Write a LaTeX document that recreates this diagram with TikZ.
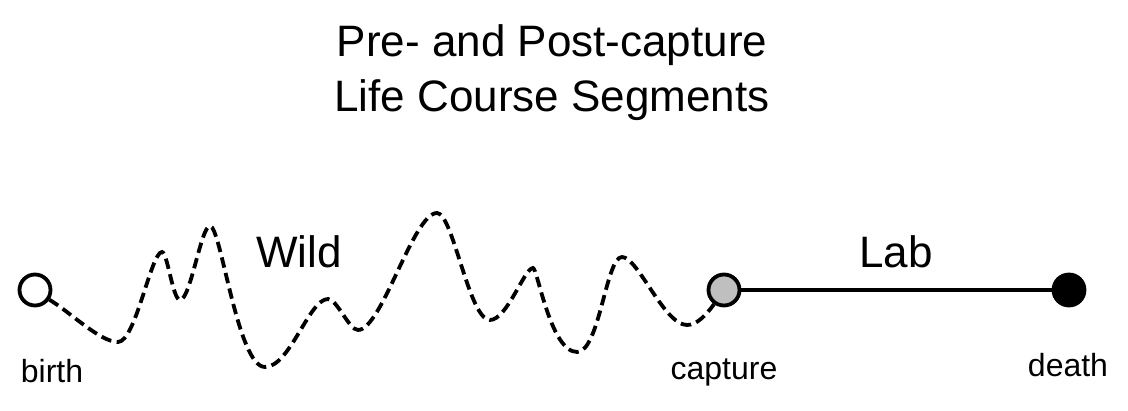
\documentclass[tikz,border=0pt]{standalone}
\usepackage{fontspec}
\setmainfont{Liberation Sans}
\begin{document}
\begin{tikzpicture}[x=1pt,y=-1pt,
  big/.style={font=\fontsize{44}{55}\selectfont, anchor=base, inner sep=0pt},
  small/.style={font=\fontsize{32}{38}\selectfont, anchor=base, inner sep=0pt},
  event/.style={circle, draw=black, line width=3.8pt, minimum size=31pt, inner sep=0pt},
  wildpath/.style={line width=3.8pt, dash pattern=on 10.5pt off 5.5pt},
  labpath/.style={line width=3.8pt}]
\useasboundingbox (0,0) rectangle (1128,411);
\node[big] (t1) at (552,57) {Pre- and Post-capture};
\node[big] (t2) at (552,112) {Life Course Segments};
\node[big] (wild) at (299,268) {Wild};
\node[big] (lab) at (896,268) {Lab};
\node[small] (lb) at (52,383) {birth};
\node[small] (lc) at (724,380) {capture};
\node[small] (ld) at (1068,377) {death};
\node[event, fill=white] (birth) at (35,290) {};
\node[event, fill=black!25] (cap) at (724,290) {};
\node[event, fill=black] (death) at (1069,290) {};
\draw[labpath] (cap) -- (death);
\draw[wildpath] (birth.-34) .. controls (70,312) and (100,342) .. (118,342)
  .. controls (135.6,342) and (151,252) .. (162,252)
  .. controls (167.4,252) and (172.8,300) .. (180,300)
  .. controls (190.5,300) and (201,226) .. (210,226)
  .. controls (221,226) and (237.5,367) .. (265,367)
  .. controls (290,367) and (309,299) .. (328,299)
  .. controls (337,299) and (349,330) .. (358,330)
  .. controls (381.7,330) and (413.3,213) .. (437,213)
  .. controls (453,213) and (469,320) .. (490,320)
  .. controls (507,320) and (524.4,268) .. (533,268)
  .. controls (537.4,268) and (550.6,352) .. (577,352)
  .. controls (599.5,352) and (606,257) .. (622,257)
  .. controls (638,257) and (664,325) .. (687,325)
  .. controls (697,325) and (706,315) .. (cap.235);
\end{tikzpicture}
\end{document}
